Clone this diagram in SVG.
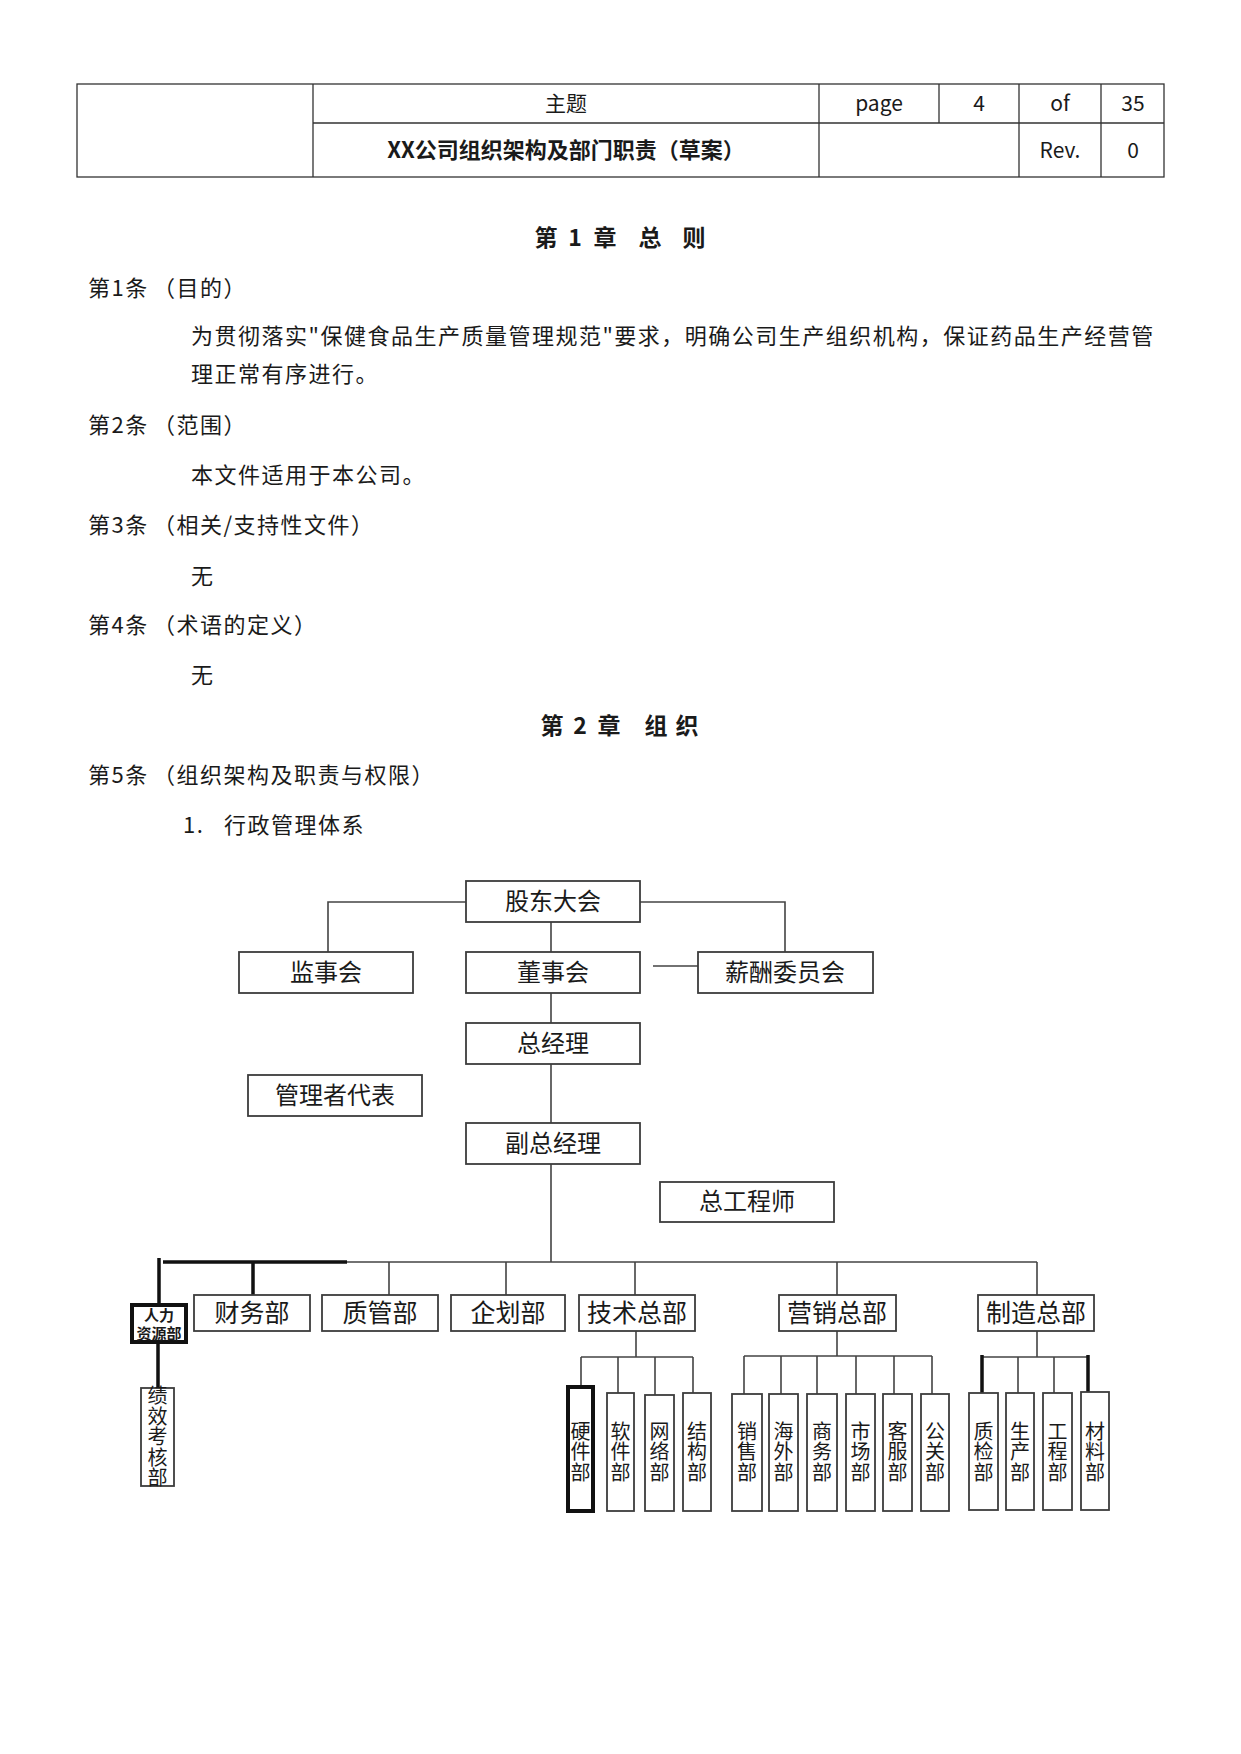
<svg xmlns="http://www.w3.org/2000/svg" width="1241" height="1754" viewBox="0 0 1241 1754">
<style>
text{font-family:"Noto Sans CJK SC","Noto Sans",sans-serif;fill:#1a1a1a}
.t{font-size:21px}
.b{font-size:22px;letter-spacing:1.5px}
.h{font-size:23px;font-weight:bold;text-anchor:middle}
.c{text-anchor:middle}
.tb{stroke:#333;stroke-width:1.3;fill:none}
.box{fill:#fff;stroke:#3c3c3c;stroke-width:1.8}
.bx{fill:#fff;stroke:#111;stroke-width:4}
.n1{font-size:24px;text-anchor:middle}
.n2{font-size:25px;text-anchor:middle}
.nv{font-size:20px;text-anchor:middle;writing-mode:vertical-rl;letter-spacing:0.5px}
.ln{stroke:#444;stroke-width:1.6;fill:none}
.lk{stroke:#111;stroke-width:3.5;fill:none}
</style>
<rect width="1241" height="1754" fill="#fff"/>
<g id="header">
<rect class="tb" x="77" y="84" width="1087" height="93"/>
<path class="tb" d="M313,84V177M819,84V177M939,84V123M1019,84V177M1101,84V177M313,123H1164"/>
<text class="t c" x="566" y="111">主题</text>
<text class="t c" x="879" y="111">page</text>
<text class="t c" x="979" y="111">4</text>
<text class="t c" x="1060" y="111">of</text>
<text class="t c" x="1133" y="111">35</text>
<text class="c" x="566" y="158" font-size="22" font-weight="bold">XX公司组织架构及部门职责（草案）</text>
<text class="t c" x="1060" y="158">Rev.</text>
<text class="t c" x="1133" y="158">0</text>
</g>
<g id="body">
<text class="h" y="246"><tspan x="546">第</tspan><tspan x="575">1</tspan><tspan x="605">章</tspan><tspan x="650">总</tspan><tspan x="694">则</tspan></text>
<text class="b" x="88" y="296">第1条</text><text class="b" x="153" y="296">（目的）</text>
<text class="b" x="191" y="344">为贯彻落实"保健食品生产质量管理规范"要求，明确公司生产组织机构，保证药品生产经营管</text>
<text class="b" x="191" y="382">理正常有序进行。</text>
<text class="b" x="88" y="433">第2条</text><text class="b" x="153" y="433">（范围）</text>
<text class="b" x="191" y="483">本文件适用于本公司。</text>
<text class="b" x="88" y="533">第3条</text><text class="b" x="153" y="533">（相关/支持性文件）</text>
<text class="b" x="191" y="584">无</text>
<text class="b" x="88" y="633">第4条</text><text class="b" x="153" y="633">（术语的定义）</text>
<text class="b" x="191" y="683">无</text>
<text class="h" y="734"><tspan x="552">第</tspan><tspan x="580">2</tspan><tspan x="609">章</tspan><tspan x="656">组</tspan><tspan x="687">织</tspan></text>
<text class="b" x="88" y="783">第5条</text><text class="b" x="153" y="783">（组织架构及职责与权限）</text>
<text class="b" x="183" y="833">1.</text><text class="b" x="224" y="833">行政管理体系</text>
</g>
<g id="connectors">
<path class="ln" d="M466,902H328V952M640,902H785V952M551,922V952M653,966H698M551,993V1023M551,1064V1123M551,1164V1262M347,1262H1037"/>
<path class="ln" d="M389,1262V1295M506,1262V1295M635,1262V1295M837,1262V1295M1037,1262V1295"/>
<path class="lk" d="M163,1262H347M159,1258V1303M253,1262V1295M158,1342V1388"/>
<path class="ln" d="M636,1331V1357M581,1357H693M581,1357V1387M618,1357V1393M655,1357V1395M693,1357V1393"/>
<path class="ln" d="M837,1331V1356M744,1356H932M744,1356V1394M781,1356V1394M817,1356V1394M856,1356V1394M894,1356V1394M932,1356V1394"/>
<path class="ln" d="M1037,1331V1357M982,1357H1088M1018,1357V1393M1054,1357V1393"/>
<path class="lk" d="M982,1355V1397M1088,1355V1394"/>
</g>
<g id="n-gudong"><rect class="box" x="466" y="881" width="174" height="41"/><text class="n1" x="553" y="910">股东大会</text></g>
<g id="n-jianshi"><rect class="box" x="239" y="952" width="174" height="41"/><text class="n1" x="326" y="981">监事会</text></g>
<g id="n-dongshi"><rect class="box" x="466" y="952" width="174" height="41"/><text class="n1" x="553" y="981">董事会</text></g>
<g id="n-xinchou"><rect class="box" x="698" y="952" width="175" height="41"/><text class="n1" x="785" y="981">薪酬委员会</text></g>
<g id="n-zongjingli"><rect class="box" x="466" y="1023" width="174" height="41"/><text class="n1" x="553" y="1052">总经理</text></g>
<g id="n-guanli"><rect class="box" x="248" y="1075" width="174" height="41"/><text class="n1" x="335" y="1104">管理者代表</text></g>
<g id="n-fuzong"><rect class="box" x="466" y="1123" width="174" height="41"/><text class="n1" x="553" y="1152">副总经理</text></g>
<g id="n-zonggong"><rect class="box" x="660" y="1182" width="174" height="40"/><text class="n1" x="747" y="1210">总工程师</text></g>
<g id="n-renli"><rect class="bx" x="132" y="1305" width="54" height="37"/><text font-size="15" font-weight="bold" text-anchor="middle"><tspan x="159" y="1321">人力</tspan><tspan x="159" y="1339">资源部</tspan></text></g>
<g id="n-caiwu"><rect class="box" x="194" y="1295" width="116" height="36"/><text class="n2" x="252" y="1322">财务部</text></g>
<g id="n-zhiguan"><rect class="box" x="322" y="1295" width="116" height="36"/><text class="n2" x="380" y="1322">质管部</text></g>
<g id="n-qihua"><rect class="box" x="451" y="1295" width="114" height="36"/><text class="n2" x="508" y="1322">企划部</text></g>
<g id="n-jishu"><rect class="box" x="579" y="1295" width="116" height="36"/><text class="n2" x="637" y="1322">技术总部</text></g>
<g id="n-yingxiao"><rect class="box" x="779" y="1295" width="117" height="36"/><text class="n2" x="837" y="1322">营销总部</text></g>
<g id="n-zhizao"><rect class="box" x="978" y="1295" width="116" height="36"/><text class="n2" x="1036" y="1322">制造总部</text></g>
<g id="n-jixiao"><rect class="box" x="141" y="1388" width="33" height="98"/><text class="nv" x="157.5" y="1437" font-size="17.5" letter-spacing="0">绩效考核部</text></g>
<g id="n-yingjian"><rect class="bx" x="568" y="1387" width="25" height="124"/><text class="nv" x="580.5" y="1452">硬件部</text></g>
<g id="n-ruanjian"><rect class="box" x="607" y="1393" width="27" height="118"/><text class="nv" x="620.5" y="1452">软件部</text></g>
<g id="n-wangluo"><rect class="box" x="645" y="1395" width="29" height="116"/><text class="nv" x="659.5" y="1452">网络部</text></g>
<g id="n-jiegou"><rect class="box" x="683" y="1393" width="28" height="118"/><text class="nv" x="697" y="1452">结构部</text></g>
<g id="n-xiaoshou"><rect class="box" x="732" y="1394" width="30" height="117"/><text class="nv" x="747" y="1452">销售部</text></g>
<g id="n-haiwai"><rect class="box" x="769" y="1394" width="29" height="117"/><text class="nv" x="783.5" y="1452">海外部</text></g>
<g id="n-shangwu"><rect class="box" x="807" y="1394" width="30" height="117"/><text class="nv" x="822" y="1452">商务部</text></g>
<g id="n-shichang"><rect class="box" x="846" y="1394" width="29" height="117"/><text class="nv" x="860.5" y="1452">市场部</text></g>
<g id="n-kefu"><rect class="box" x="883" y="1394" width="29" height="117"/><text class="nv" x="897.5" y="1452">客服部</text></g>
<g id="n-gongguan"><rect class="box" x="921" y="1394" width="28" height="117"/><text class="nv" x="935" y="1452">公关部</text></g>
<g id="n-zhijian"><rect class="box" x="969" y="1393" width="29" height="117"/><text class="nv" x="983.5" y="1452">质检部</text></g>
<g id="n-shengchan"><rect class="box" x="1006" y="1393" width="28" height="117"/><text class="nv" x="1020" y="1452">生产部</text></g>
<g id="n-gongcheng"><rect class="box" x="1043" y="1393" width="29" height="117"/><text class="nv" x="1057.5" y="1452">工程部</text></g>
<g id="n-cailiao"><rect class="box" x="1081" y="1392" width="28" height="118"/><text class="nv" x="1095" y="1452">材料部</text></g>
</svg>
